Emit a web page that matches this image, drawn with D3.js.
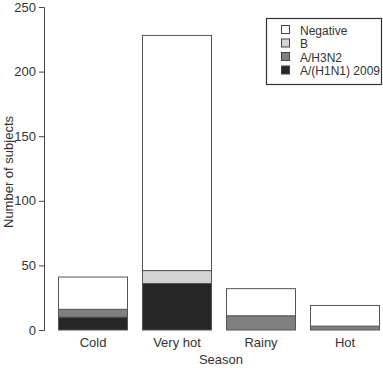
<!DOCTYPE html>
<html><head><meta charset="utf-8">
<script src="https://cdn.jsdelivr.net/npm/d3@7"></script>
<style>body{margin:0;background:#fff}svg{display:block}text{font-family:"Liberation Sans",Arial,sans-serif}</style>
</head><body><svg id="c" width="383" height="368"></svg>
<script>
const categories = ["Cold","Very hot","Rainy","Hot"];
const seriesNames = ["A/(H1N1) 2009","A/H3N2","B","Negative"];
const h1n1 = [10, 36, 0, 0];
const h3n2 = [6, 0, 11, 3];
const bVals = [0, 10, 0, 0];
const negative = [25, 182, 21, 16];
const yTicks = [0,50,100,150,200,250];
const colors = ["#262626","#808080","#d4d4d4","#ffffff"];
const legendOrder = ["Negative","B","A/H3N2","A/(H1N1) 2009"];

const svg = d3.select("#c");
const x = d3.scaleBand().domain(categories).range([51,387]).paddingInner(1/6).paddingOuter(1/12);
const y = d3.scaleLinear().domain([0,250]).range([330,7]);

const rows = categories.map((c,i)=>({cat:c,"A/(H1N1) 2009":h1n1[i],"A/H3N2":h3n2[i],"B":bVals[i],"Negative":negative[i]}));
const stack = d3.stack().keys(seriesNames)(rows);
const color = d3.scaleOrdinal().domain(seriesNames).range(colors);

stack.forEach(s=>{
  svg.append("g").selectAll("rect").data(s.filter(d=>d[1]-d[0]>0)).join("rect")
    .attr("x",d=>x(d.data.cat)+0.5).attr("width",x.bandwidth()-1)
    .attr("y",d=>y(d[1])).attr("height",d=>y(d[0])-y(d[1]))
    .attr("fill",color(s.key)).attr("stroke","#555").attr("stroke-width",1);
});

const ya = svg.append("g").attr("transform","translate(44,0)").call(d3.axisLeft(y).tickValues(yTicks).tickSize(5).tickPadding(3));
ya.select(".domain").attr("stroke","#444");
ya.selectAll("line").attr("stroke","#444");
ya.selectAll("text").attr("font-size",13).attr("fill","#333").attr("font-family","Liberation Sans, Arial, sans-serif");

const xa = svg.append("g").attr("transform","translate(0,330)").call(d3.axisBottom(x).tickSize(0).tickPadding(8));
xa.select(".domain").remove();
xa.selectAll("text").attr("font-size",13).attr("fill","#333").attr("font-family","Liberation Sans, Arial, sans-serif");

svg.append("text").attr("x",221).attr("y",364).attr("text-anchor","middle").attr("font-size",13).attr("fill","#333").text("Season");
svg.append("text").attr("transform","translate(13,172) rotate(-90)").attr("text-anchor","middle").attr("font-size",13).attr("fill","#333").text("Number of subjects");

const lg = svg.append("g");
lg.append("rect").attr("x",266.5).attr("y",18.5).attr("width",115).attr("height",66).attr("fill","#fff").attr("stroke","#333").attr("stroke-width",1.2);
legendOrder.forEach((k,i)=>{
  const yy = 30 + i*13.5;
  lg.append("rect").attr("x",281.5).attr("y",yy-4.5).attr("width",8).attr("height",8).attr("fill",color(k)).attr("stroke","#444");
  lg.append("text").attr("x",300).attr("y",yy+4.5).attr("font-size",12).attr("fill","#333").text(k);
});
</script></body></html>
